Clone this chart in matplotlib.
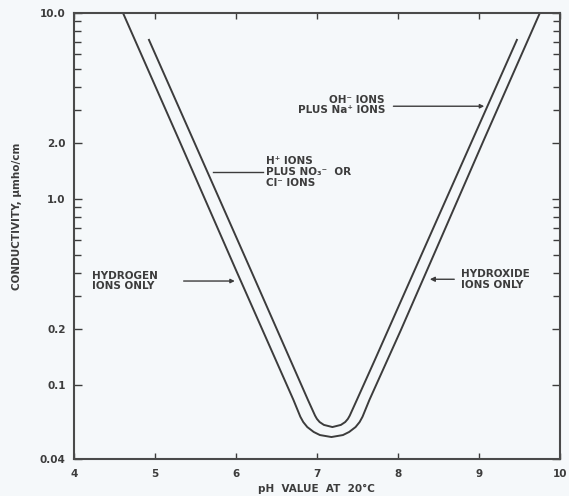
import matplotlib
matplotlib.use("Agg")
import matplotlib.pyplot as plt
from matplotlib.ticker import FixedLocator, NullFormatter

# ---- data ----
ph_ions_only = [4.605, 5.296, 6.00, 6.71, 6.795, 6.831, 6.881, 6.960, 7.037, 7.179,
                7.321, 7.398, 7.477, 7.527, 7.563, 7.648, 8.037, 8.469, 9.062, 9.753]
cond_ions_only = [10.0, 2.08, 0.415, 0.0831, 0.0675, 0.0632, 0.0594, 0.0559, 0.0538, 0.0525,
                  0.0538, 0.0559, 0.0594, 0.0632, 0.0675, 0.0831, 0.1975, 0.532, 2.08, 10.0]

ph_with_salt = [4.926, 5.472, 6.183, 6.889, 6.977, 7.000, 7.033, 7.086, 7.191,
                7.296, 7.349, 7.382, 7.405, 7.493, 7.714, 8.317, 8.921, 9.469]
cond_with_salt = [7.16, 2.08, 0.415, 0.0831, 0.0684, 0.0657, 0.0632, 0.0610, 0.0594,
                  0.0610, 0.0632, 0.0657, 0.0684, 0.0831, 0.136, 0.532, 2.08, 7.16]

x_ticks = [4, 5, 6, 7, 8, 9, 10]
x_tick_labels = ["4", "5", "6", "7", "8", "9", "10"]
y_ticks = [0.04, 0.1, 0.2, 1.0, 2.0, 10.0]
y_tick_labels = ["0.04", "0.1", "0.2", "1.0", "2.0", "10.0"]
y_minor = [0.3, 0.4, 0.5, 0.6, 0.7, 0.8, 0.9, 3, 4, 5, 6, 7, 8, 9]

bg = "#f5f8fa"
ink = "#3c3c3c"

fig = plt.figure(figsize=(5.69, 4.96), dpi=100, facecolor=bg)
ax = fig.add_axes([0.130, 0.0746, 0.854, 0.8994], facecolor=bg)

ax.plot(ph_ions_only, cond_ions_only, color=ink, lw=1.4, solid_joinstyle="round")
ax.plot(ph_with_salt, cond_with_salt, color=ink, lw=1.4, solid_joinstyle="round")

ax.set_yscale("log")
ax.set_xlim(4, 10)
ax.set_ylim(0.04, 10.0)

ax.yaxis.set_major_locator(FixedLocator(y_ticks))
ax.set_yticklabels(y_tick_labels)
ax.yaxis.set_minor_locator(FixedLocator(y_minor))
ax.yaxis.set_minor_formatter(NullFormatter())
ax.set_xticks(x_ticks)
ax.set_xticklabels(x_tick_labels)

for s in ax.spines.values():
    s.set_color("#4a4a4a")
    s.set_linewidth(1.5)

tfont = dict(family="DejaVu Sans", weight="bold", size=7.5, color=ink)
ax.tick_params(axis="y", which="major", direction="in", length=6, width=1, color=ink,
               left=True, right=True, pad=6, labelsize=7.5, labelcolor=ink)
ax.tick_params(axis="y", which="minor", direction="in", length=5, width=1, color=ink,
               left=True, right=True)
ax.tick_params(axis="x", which="major", direction="in", length=4, width=1, color=ink,
               bottom=True, top=True, pad=7, labelsize=7.5, labelcolor=ink)
for lab in ax.get_xticklabels() + ax.get_yticklabels():
    lab.set_fontweight("bold")

ax.set_xlabel("pH  VALUE  AT  20°C", fontsize=7.5, fontweight="bold", color=ink, labelpad=4)
ax.set_ylabel("CONDUCTIVITY, μmho/cm", fontsize=7.5, fontweight="bold", color=ink)
ax.yaxis.set_label_coords(-0.107, 0.545)

# annotations
ax.text(7.84, 3.2, "OH⁻ IONS\nPLUS Na⁺ IONS", ha="right", va="center",
        multialignment="right", linespacing=1.1, **tfont)
ax.annotate("", xy=(9.10, 3.15), xytext=(7.91, 3.15),
            arrowprops=dict(arrowstyle="-|>", color=ink, lw=1, mutation_scale=6))

ax.text(6.37, 1.40, "H⁺ IONS\nPLUS NO₃⁻  OR\nCl⁻ IONS", ha="left", va="center",
        linespacing=1.1, **tfont)
ax.plot([5.72, 6.33], [1.40, 1.40], color=ink, lw=1)

ax.text(4.22, 0.362, "HYDROGEN\nIONS ONLY", ha="left", va="center",
        linespacing=1.1, **tfont)
ax.annotate("", xy=(6.02, 0.362), xytext=(5.32, 0.362),
            arrowprops=dict(arrowstyle="-|>", color=ink, lw=1, mutation_scale=6))

ax.text(8.78, 0.37, "HYDROXIDE\nIONS ONLY", ha="left", va="center",
        linespacing=1.1, **tfont)
ax.annotate("", xy=(8.36, 0.37), xytext=(8.73, 0.37),
            arrowprops=dict(arrowstyle="-|>", color=ink, lw=1, mutation_scale=7))

fig.savefig("out.png", dpi=100, facecolor=bg)
